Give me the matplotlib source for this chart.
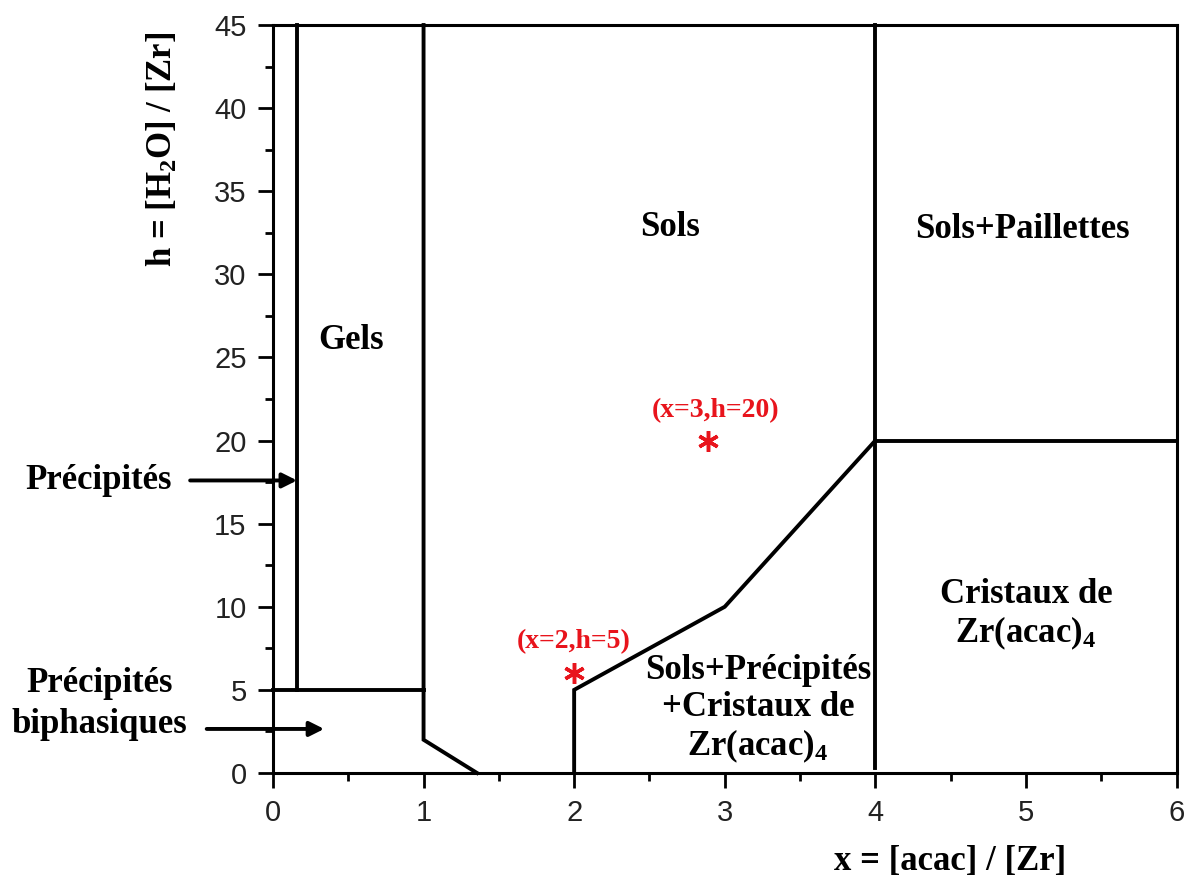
"""
Diagramme de phases Zr / acac / H2O
"""

import matplotlib
matplotlib.use("Agg")
import matplotlib.pyplot as plt
from matplotlib.ticker import MultipleLocator

plt.rcParams['mathtext.fontset'] = 'custom'
plt.rcParams['mathtext.rm'] = 'Liberation Serif:bold'
plt.rcParams['mathtext.default'] = 'rm'

SERIF = 'Liberation Serif'
SANS = 'Liberation Sans'

# Frontieres du diagramme (x = [acac]/[Zr], h = [H2O]/[Zr])
prec_x = [0.16, 0.16]
prec_h = [5, 45]
biph_x = [0, 1]
biph_h = [5, 5]
gel_x = [1, 1, 1.355]
gel_h = [45, 2, 0]
sol_x = [2, 2, 3, 4]
sol_h = [0, 5, 10, 20]
pail_x = [4, 4]
pail_h = [0.3, 45]
crist_x = [4, 6]
crist_h = [20, 20]

# Points etudies
star_x = [2.0, 2.89]
star_h = [6.0, 20.0]
star_labels = ['(x=2,h=5)', '(x=3,h=20)']
star_label_xy = [(2.0, 7.9), (2.94, 21.8)]

# Noms des domaines
regions = ['Sols', 'Sols+Paillettes', 'Gels',
           'Cristaux de\nZr(acac)$_4$',
           'Sols+Précipités\n+Cristaux de\nZr(acac)$_4$']
region_xy = [(2.64, 32.8), (4.98, 32.7), (0.52, 26.0), (5.0, 9.5), (3.22, 3.8)]

FS = 25

fig = plt.figure(figsize=(11.92, 8.81), dpi=100)
ax = fig.add_axes([0.229, 0.1226, 0.758, 0.849])

lw = 2.8
for xs, hs in [(prec_x, prec_h), (biph_x, biph_h), (gel_x, gel_h),
               (sol_x, sol_h), (pail_x, pail_h), (crist_x, crist_h)]:
    ax.plot(xs, hs, color='black', lw=lw, solid_joinstyle='miter', clip_on=False)

ax.plot(star_x, star_h, ls='none', marker=(6, 2, 0), ms=15, mew=2.5, color='#e8141c')
for lab, (tx, ty) in zip(star_labels, star_label_xy):
    ax.text(tx, ty, lab, color='#e8141c', fontsize=20, fontweight='bold',
            family=SERIF, ha='center', va='center')

for lab, (tx, ty) in zip(regions, region_xy):
    ax.text(tx, ty, lab, fontsize=FS, fontweight='bold', family=SERIF,
            ha='center', va='center', linespacing=1.15)

# Fleches a gauche
ax.text(-1.16, 17.6, 'Précipités', fontsize=FS, fontweight='bold', family=SERIF,
        ha='center', va='center', clip_on=False)
ax.annotate('', xy=(0.16, 17.6), xytext=(-0.55, 17.6), annotation_clip=False,
            arrowprops=dict(arrowstyle='-|>', lw=2.8, mutation_scale=22, color='black',
                            shrinkA=0, shrinkB=0))
ax.text(-1.15, 4.15, 'Précipités\nbiphasiques', fontsize=FS, fontweight='bold',
        family=SERIF, ha='center', va='center', linespacing=1.3, clip_on=False)
ax.annotate('', xy=(0.34, 2.65), xytext=(-0.44, 2.65), annotation_clip=False,
            arrowprops=dict(arrowstyle='-|>', lw=2.8, mutation_scale=22, color='black',
                            shrinkA=0, shrinkB=0))

ax.set_xlim(0, 6)
ax.set_ylim(0, 45)
ax.xaxis.set_major_locator(MultipleLocator(1))
ax.xaxis.set_minor_locator(MultipleLocator(0.5))
ax.yaxis.set_major_locator(MultipleLocator(5))
ax.yaxis.set_minor_locator(MultipleLocator(2.5))
ax.tick_params(which='major', length=11, width=2, direction='out', labelsize=21, pad=8)
ax.tick_params(which='minor', length=6, width=2, direction='out')
for lab in ax.get_xticklabels() + ax.get_yticklabels():
    lab.set_family(SANS)
    lab.set_color('#222222')
for sp in ax.spines.values():
    sp.set_linewidth(2.2)

fig.text(0.797, 0.022, 'x = [acac] / [Zr]', fontsize=FS, fontweight='bold',
         family=SERIF, ha='center', va='center')
fig.text(0.137, 0.83, 'h = [H$_2$O] / [Zr]', fontsize=FS, fontweight='bold',
         family=SERIF, ha='center', va='center', rotation=90)

fig.savefig('out.png', dpi=100)
